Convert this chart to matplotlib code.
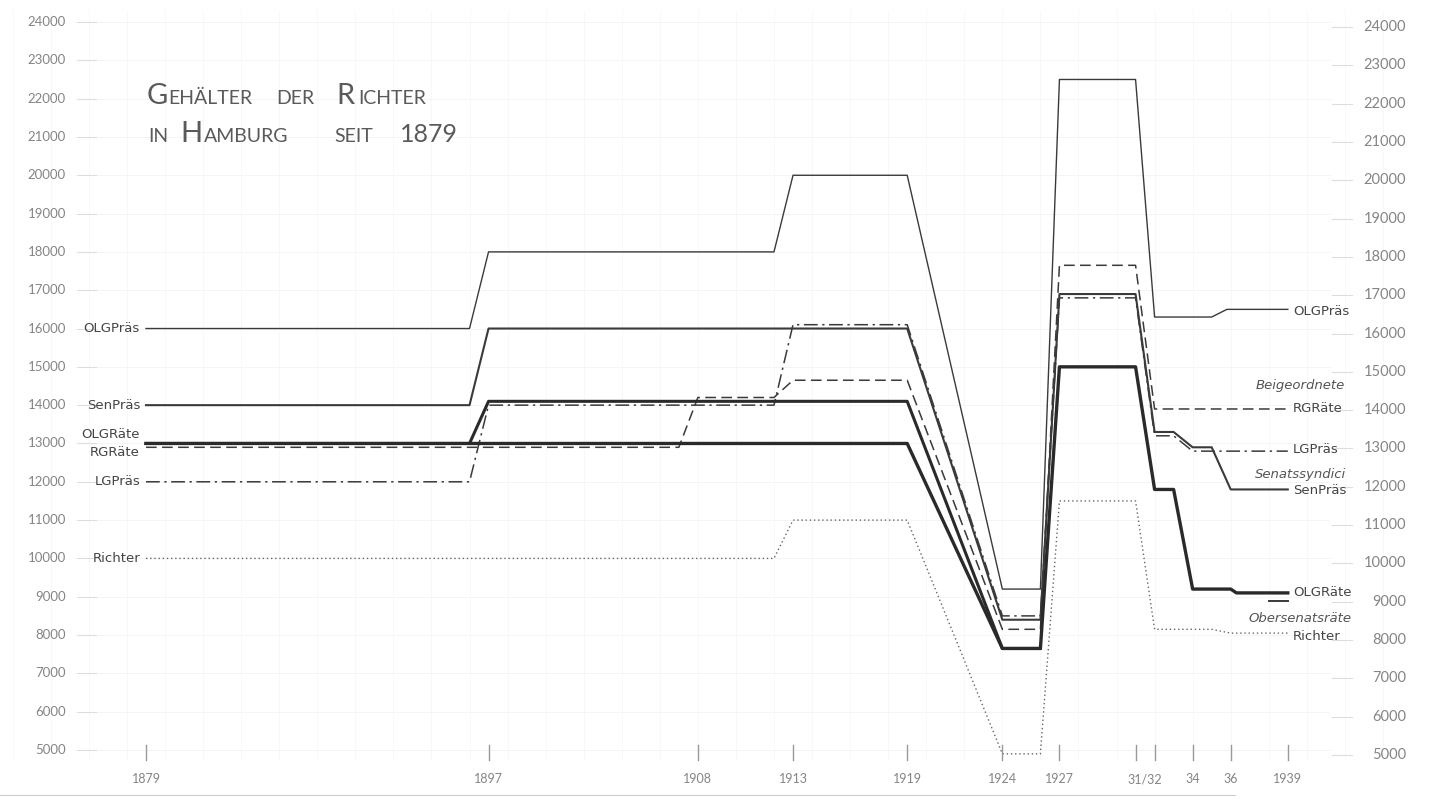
"""
Gehälter der Richter in Hamburg seit 1879 -- nachgezeichnet
"""
import matplotlib
matplotlib.use("Agg")
import matplotlib.pyplot as plt

# ---------------------------------------------------------------
# Daten (Jahr, Jahresgehalt in Mark / RM)
# ---------------------------------------------------------------
olg_praes_years = [1879, 1896, 1897, 1912, 1913, 1919, 1924, 1926, 1927, 1931, 1932, 1935, 1935.8, 1939]
olg_praes_values = [16000, 16000, 18000, 18000, 20000, 20000, 9200, 9200, 22500, 22500, 16300, 16300, 16500, 16500]

sen_praes_years = [1879, 1896, 1897, 1919, 1924, 1926, 1927, 1931, 1932, 1933, 1934, 1935, 1936, 1939]
sen_praes_values = [14000, 14000, 16000, 16000, 8400, 8400, 16900, 16900, 13300, 13300, 12900, 12900, 11800, 11800]

lg_praes_years = [1879, 1896, 1897, 1912, 1913, 1919, 1924, 1926, 1927, 1931, 1932, 1933, 1934, 1939]
lg_praes_values = [12000, 12000, 14000, 14000, 16100, 16100, 8500, 8500, 16800, 16800, 13200, 13200, 12800, 12800]

rg_raete_years = [1879, 1907, 1908, 1912, 1913, 1919, 1924, 1926, 1927, 1931, 1932, 1939]
rg_raete_values = [12900, 12900, 14200, 14200, 14650, 14650, 8150, 8150, 17650, 17650, 13900, 13900]

olg_raete_years = [1879, 1919, 1924, 1926, 1927, 1931, 1932, 1933, 1934, 1936, 1936.3, 1939]
olg_raete_values = [13000, 13000, 7650, 7650, 15000, 15000, 11800, 11800, 9200, 9200, 9100, 9100]

# zweite dicke Linie (steigt 1897 auf 14100, vereinigt sich 1924)
olg_raete2_years = [1879, 1896, 1897, 1919, 1924, 1926]
olg_raete2_values = [13000, 13000, 14100, 14100, 7650, 7650]

richter_years = [1879, 1912, 1913, 1919, 1924, 1926, 1927, 1931, 1932, 1935, 1936, 1939]
richter_values = [10000, 10000, 11000, 11000, 4900, 4900, 11500, 11500, 8150, 8150, 8050, 8050]

obersenat_years = [1938, 1939]
obersenat_values = [8900, 8900]

y_ticks = list(range(5000, 24001, 1000))
x_tick_years = [1879, 1897, 1908, 1913, 1919, 1924, 1927, 1931, 1932, 1934, 1936, 1939]
x_label_years = [1879, 1897, 1908, 1913, 1919, 1924, 1927, 1931.5, 1934, 1936, 1939]
x_labels = ["1879", "1897", "1908", "1913", "1919", "1924", "1927", "31/32", "34", "36", "1939"]

left_labels = ["OLGPräs", "SenPräs", "OLGRäte", "RGRäte", "LGPräs", "Richter"]
left_label_values = [16000, 14000, 13230, 12760, 12000, 10000]

right_labels = ["OLGPräs", "RGRäte", "LGPräs", "SenPräs", "OLGRäte", "Richter"]
right_label_values = [16450, 13900, 12850, 11780, 9120, 7950]

right_notes = ["Beigeordnete", "Senatssyndici", "Obersenatsräte"]
right_note_values = [14500, 12200, 8440]

# ---------------------------------------------------------------
# Geometrie: Pixel des Originalblattes -> Datenkoordinaten
# ---------------------------------------------------------------
W, H = 1432, 802
PX_PER_YEAR = 19.03
PX_PER_MARK = 38.316 / 1000.0


def yr(px):
    return 1879 + (px - 146) / PX_PER_YEAR


def val(py):
    return 5000 + (750 - py) / PX_PER_MARK


LINE = "#3a3a3a"
GREY = "#858585"
LETTER = ["Lato", "DejaVu Sans"]
NARROW = ["Liberation Sans Narrow", "DejaVu Sans"]

fig = plt.figure(figsize=(W / 100, H / 100), dpi=100)
ax = fig.add_axes([0, 0, 1, 1])
ax.set_xlim(yr(0), yr(W))
ax.set_ylim(val(H), val(0))
ax.axis("off")

# schwaches Millimeterpapier
for v in y_ticks:
    ax.plot([yr(75), yr(1330)], [v, v], color="#f3f3f3", lw=0.6, zorder=0)
for y in range(1872, 1946, 2):
    ax.plot([y, y], [val(760), val(10)], color="#f7f7f7", lw=0.6, zorder=0)

# Kurven
ax.plot(olg_praes_years, olg_praes_values, color=LINE, lw=1.0)
ax.plot(sen_praes_years, sen_praes_values, color=LINE, lw=1.5)
ax.plot(lg_praes_years, lg_praes_values, color=LINE, lw=1.1, linestyle=(0, (9, 3, 1.5, 3)))
ax.plot(rg_raete_years, rg_raete_values, color=LINE, lw=1.1, linestyle=(0, (7, 3.5)))
ax.plot(olg_raete_years, olg_raete_values, color="#2a2a2a", lw=2.4)
ax.plot(olg_raete2_years, olg_raete2_values, color="#2a2a2a", lw=2.2)
ax.plot(richter_years, richter_values, color="#666666", lw=1.0, linestyle=(0, (1, 2)))
ax.plot(obersenat_years, obersenat_values, color=LINE, lw=1.4)

# linke und rechte Skala
for v in y_ticks:
    ax.text(yr(66), v, f"{v}", ha="right", va="center", fontsize=9.5,
            color=GREY, family=LETTER)
    ax.plot([yr(78), yr(96)], [v, v], color="#dddddd", lw=0.8)
    ax.text(yr(1406), v - 130, f"{v}", ha="right", va="center", fontsize=10.5,
            color=GREY, family=LETTER)
    ax.plot([yr(1332), yr(1352)], [v - 130, v - 130], color="#dddddd", lw=0.8)

# Jahresachse
for y in x_tick_years:
    ax.plot([y, y], [val(745), val(760)], color="#999999", lw=1.0)
for y, lab in zip(x_label_years, x_labels):
    ax.text(y, val(779), lab, ha="center", va="center", fontsize=9,
            color=GREY, family=LETTER)
ax.plot([yr(0), yr(1235)], [val(795), val(795)], color="#cccccc", lw=0.8)

# Beschriftungen der Kurven
for lab, v in zip(left_labels, left_label_values):
    ax.text(yr(140), v, lab, ha="right", va="center", fontsize=9.5,
            color="#444444", family=NARROW)
for lab, v in zip(right_labels, right_label_values):
    ax.text(yr(1293), v, lab, ha="left", va="center", fontsize=9.5,
            color="#444444", family=NARROW)
for lab, v in zip(right_notes, right_note_values):
    ax.text(yr(1300), v, lab, ha="center", va="center", fontsize=9.5,
            color="#555555", family=NARROW, style="italic")

# Titel in Kapitälchen
title_1 = [("G", 147, 21), ("EHÄLTER", 168, 14), ("DER", 276, 14), ("R", 336, 21), ("ICHTER", 358, 14)]
title_2 = [("IN", 148, 14), ("H", 180, 21), ("AMBURG", 204, 14), ("SEIT", 334, 14), ("1879", 400, 18)]
for words, base in ((title_1, 104), (title_2, 142)):
    for word, px, size in words:
        ax.text(yr(px), val(base), word, ha="left", va="baseline", fontsize=size,
                color="#5a5a5a", family=LETTER)

fig.savefig("out.png", dpi=100)
print("Saved out.png")
